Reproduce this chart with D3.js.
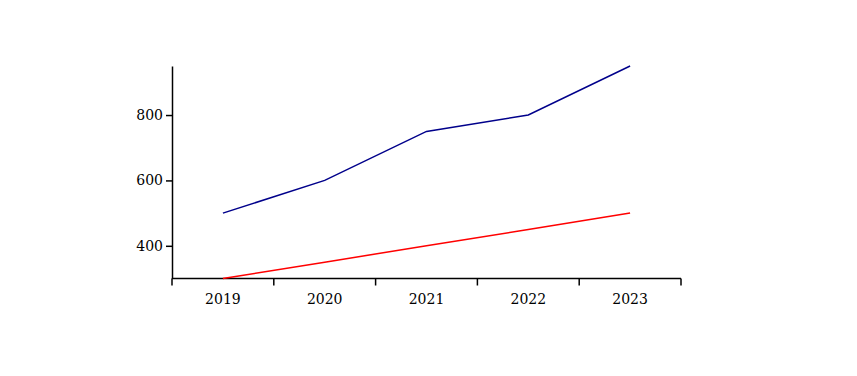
<!DOCTYPE html>
<html><head><meta charset="utf-8">
<script src="https://cdn.jsdelivr.net/npm/d3@7"></script>
<style>body{margin:0;background:#fff}svg{display:block}</style>
</head><body>
<svg id="c" width="857" height="376"></svg>
<script>
const categories = ["2019","2020","2021","2022","2023"];
const seriesBlue = [500, 600, 750, 800, 950];
const seriesRed = [300, 350, 400, 450, 500];
const yTicks = [400, 600, 800];
const yDomain = [300, 950];

(function(){
const svg = d3.select("#c");
const mLeft = 172, mRight = 681, mTop = 66, mBottom = 278.5;
const x = d3.scaleBand().domain(categories).range([mLeft, mRight]).padding(0);
const y = d3.scaleLinear().domain(yDomain).range([mBottom, mTop]);
const font = "DejaVu Serif";

// x axis
const gx = svg.append("g").attr("transform", `translate(0,${mBottom})`);
gx.append("line").attr("x1", mLeft).attr("x2", mRight).attr("stroke", "#000").attr("stroke-width", 1.5);
const bounds = categories.map(c => x(c)).concat([mRight]);
gx.selectAll("line.t").data(bounds).join("line").attr("class","t")
  .attr("x1", d => d).attr("x2", d => d).attr("y1", 0).attr("y2", 7)
  .attr("stroke", "#000").attr("stroke-width", 1.5);
gx.selectAll("text").data(categories).join("text")
  .attr("x", d => x(d) + x.bandwidth()/2).attr("y", 25)
  .attr("text-anchor", "middle").attr("font-family", font).attr("font-size", 14)
  .text(d => d);

// y axis
const gy = svg.append("g").attr("transform", `translate(${mLeft},0)`);
gy.call(d3.axisLeft(y).tickValues(yTicks).tickSizeInner(6).tickSizeOuter(0));
gy.select(".domain").attr("stroke-width", 1.5);
gy.selectAll(".tick line").attr("stroke-width", 1.5);
gy.selectAll(".tick text").attr("font-family", font).attr("font-size", 14).attr("fill","#000");

const line = d3.line().x((d,i) => x(categories[i]) + x.bandwidth()/2).y(d => y(d));
svg.append("path").datum(seriesBlue).attr("d", line).attr("fill","none").attr("stroke","#00008b").attr("stroke-width",1.5);
svg.append("path").datum(seriesRed).attr("d", line).attr("fill","none").attr("stroke","#ff0000").attr("stroke-width",1.5);
})();
</script>
</body></html>
